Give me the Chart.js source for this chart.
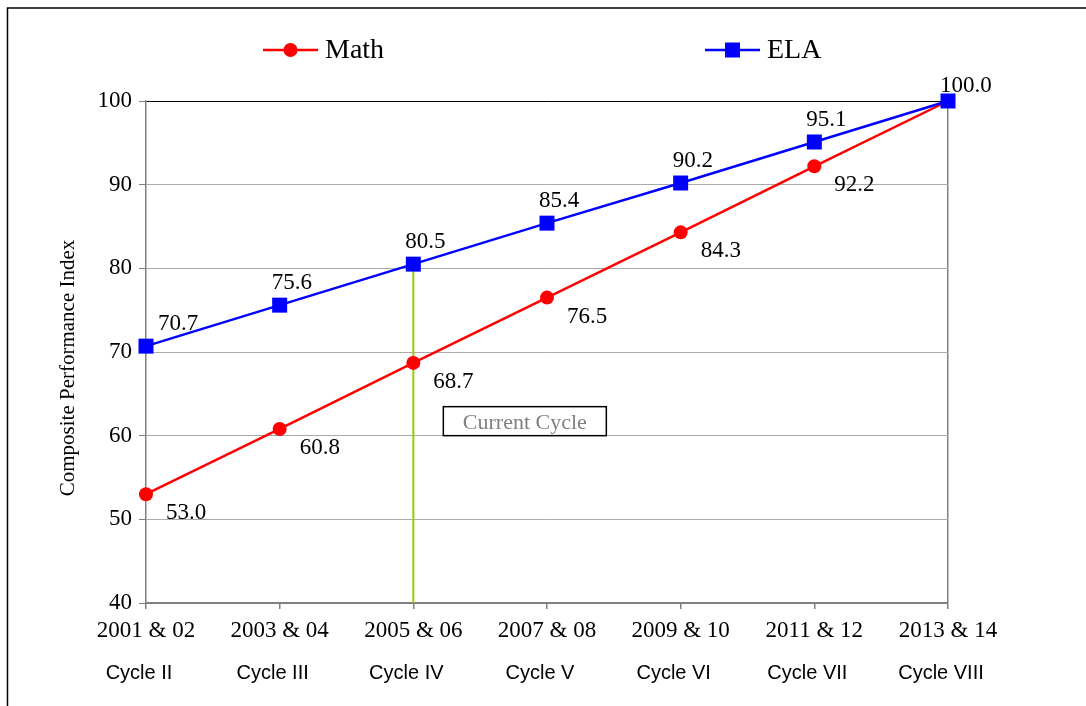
<!DOCTYPE html>
<html><head><meta charset="utf-8">
<script src="https://cdn.jsdelivr.net/npm/chart.js@4"></script>
<style>html,body{margin:0;padding:0;background:#fff;overflow:hidden}#wrap{width:1086px;height:706px;position:relative}</style>
</head><body><div id="wrap"><canvas id="c" width="1086" height="706"></canvas></div>
<script>
const categories = ['2001 & 02','2003 & 04','2005 & 06','2007 & 08','2009 & 10','2011 & 12','2013 & 14'];
const cycles = ['Cycle II','Cycle III','Cycle IV','Cycle V','Cycle VI','Cycle VII','Cycle VIII'];
const mathValues = [53.0, 60.8, 68.7, 76.5, 84.3, 92.2, 100.0];
const elaValues = [70.7, 75.6, 80.5, 85.4, 90.2, 95.1, 100.0];
const yTicks = [40, 50, 60, 70, 80, 90, 100];
const seriesNames = ['Math', 'ELA'];
const currentCycleIndex = 2;
const currentCycleLabel = 'Current Cycle';
const yTitle = 'Composite Performance Index';

const SERIF = '"Liberation Serif", "Times New Roman", serif';
const SANS = '"Liberation Sans", Arial, sans-serif';
const RED = '#FF0000', BLUE = '#0000FF';

const extras = {
  id: 'extras',
  beforeDraw(chart) {
    const c = chart.ctx;
    c.save();
    c.fillStyle = '#fff';
    c.fillRect(0, 0, chart.width, chart.height);
    c.restore();
  },
  beforeDatasetsDraw(chart) {
    const c = chart.ctx, xs = chart.scales.x, ys = chart.scales.y;
    const x = xs.getPixelForValue(currentCycleIndex);
    c.save();
    c.strokeStyle = '#99CC00';
    c.lineWidth = 2;
    c.beginPath();
    c.moveTo(x, ys.getPixelForValue(elaValues[currentCycleIndex]));
    c.lineTo(x, ys.getPixelForValue(yTicks[0]));
    c.stroke();
    c.restore();
  },
  afterDraw(chart) {
    const c = chart.ctx, xs = chart.scales.x, ys = chart.scales.y, ca = chart.chartArea;
    c.save();
    // outer frame
    c.strokeStyle = '#000'; c.lineWidth = 1.5;
    c.beginPath();
    c.moveTo(7.5, chart.height); c.lineTo(7.5, 8); c.lineTo(chart.width, 8);
    c.stroke();

    // y axis title
    c.save();
    c.translate(68, (ca.top + ca.bottom) / 2 + 16);
    c.rotate(-Math.PI / 2);
    c.font = '21px ' + SERIF;
    c.fillStyle = '#000';
    c.textAlign = 'center'; c.textBaseline = 'middle';
    c.fillText(yTitle, 0, 0);
    c.restore();

    // legend
    const legend = [
      {name: seriesNames[0], color: RED, style: 'circle', x0: 263},
      {name: seriesNames[1], color: BLUE, style: 'rect', x0: 705}
    ];
    legend.forEach(l => {
      const ly = 50;
      c.strokeStyle = l.color; c.lineWidth = 2.5;
      c.beginPath(); c.moveTo(l.x0, ly); c.lineTo(l.x0 + 55, ly); c.stroke();
      c.fillStyle = l.color;
      if (l.style === 'circle') { c.beginPath(); c.arc(l.x0 + 27.5, ly, 7, 0, Math.PI * 2); c.fill(); }
      else { c.fillRect(l.x0 + 20, ly - 7.5, 15, 15); }
      c.fillStyle = '#000';
      c.font = '28px ' + SERIF;
      c.textAlign = 'left'; c.textBaseline = 'middle';
      c.fillText(l.name, l.x0 + 62, ly + 1);
    });

    // data labels
    c.font = '23px ' + SERIF;
    c.fillStyle = '#000';
    c.textAlign = 'left'; c.textBaseline = 'middle';
    mathValues.forEach((v, i) => {
      const px = xs.getPixelForValue(i), py = ys.getPixelForValue(v);
      if (i === mathValues.length - 1) return;
      c.fillText(v.toFixed(1), px + 20, py + 19);
    });
    elaValues.forEach((v, i) => {
      const px = xs.getPixelForValue(i), py = ys.getPixelForValue(v);
      c.fillText(v.toFixed(1), Math.max(px - 8, ca.left + 12), py - (i === elaValues.length - 1 ? 15 : 22));
    });

    // cycle labels
    c.font = '20px ' + SANS;
    c.textAlign = 'center';
    cycles.forEach((t, i) => {
      c.fillText(t, xs.getPixelForValue(i) - 7, 673);
    });

    // current cycle box
    const bx = xs.getPixelForValue(currentCycleIndex) + 30;
    const bb = ys.getPixelForValue(60);
    const bw = 163, bh = 29;
    c.fillStyle = '#fff';
    c.fillRect(bx, bb - bh, bw, bh);
    c.strokeStyle = '#000'; c.lineWidth = 1.5;
    c.strokeRect(bx, bb - bh, bw, bh);
    c.fillStyle = '#808080';
    c.font = '22px ' + SERIF;
    c.fillText(currentCycleLabel, bx + bw / 2, bb - bh / 2 + 2);
    c.restore();
  }
};

new Chart(document.getElementById('c'), {
  type: 'line',
  data: {
    labels: categories,
    datasets: [
      {label: seriesNames[1], data: elaValues, borderColor: BLUE, backgroundColor: BLUE,
       borderWidth: 2.5, pointStyle: 'rect', pointRadius: 10.6, pointBorderWidth: 0, order: 0, tension: 0, clip: false},
      {label: seriesNames[0], data: mathValues, borderColor: RED, backgroundColor: RED,
       borderWidth: 2.5, pointStyle: 'circle', pointRadius: 7, pointBorderWidth: 0, order: 1, tension: 0, clip: false}
    ]
  },
  options: {
    responsive: false, animation: false, devicePixelRatio: 1,
    layout: {padding: {left: 0, top: 101, right: 138, bottom: 0}},
    plugins: {legend: {display: false}, tooltip: {enabled: false}},
    scales: {
      x: {
        type: 'category', offset: false,
        grid: {display: true, drawOnChartArea: true,
               color: ctx => ctx.index === categories.length - 1 ? '#808080' : 'rgba(0,0,0,0)',
               tickColor: '#808080', tickLength: 6, lineWidth: 1.5},
        border: {display: true, color: '#808080', width: 2},
        ticks: {font: {family: SERIF, size: 23}, color: '#000', padding: 8, maxRotation: 0, autoSkip: false},
        afterFit: s => { s.height = 103; }
      },
      y: {
        min: 40, max: 100,
        afterBuildTicks: s => { s.ticks = yTicks.map(v => ({value: v})); },
        grid: {color: ctx => (ctx.tick && ctx.tick.value === 100) ? '#000' : '#aaaaaa',
               tickColor: '#808080', tickLength: 7, lineWidth: 1},
        border: {display: true, color: '#808080', width: 1.5},
        ticks: {font: {family: SERIF, size: 23}, color: '#000', padding: 7},
        title: {display: false},
        afterFit: s => { s.width = 146; }
      }
    }
  },
  plugins: [extras]
});
</script>
</body></html>
